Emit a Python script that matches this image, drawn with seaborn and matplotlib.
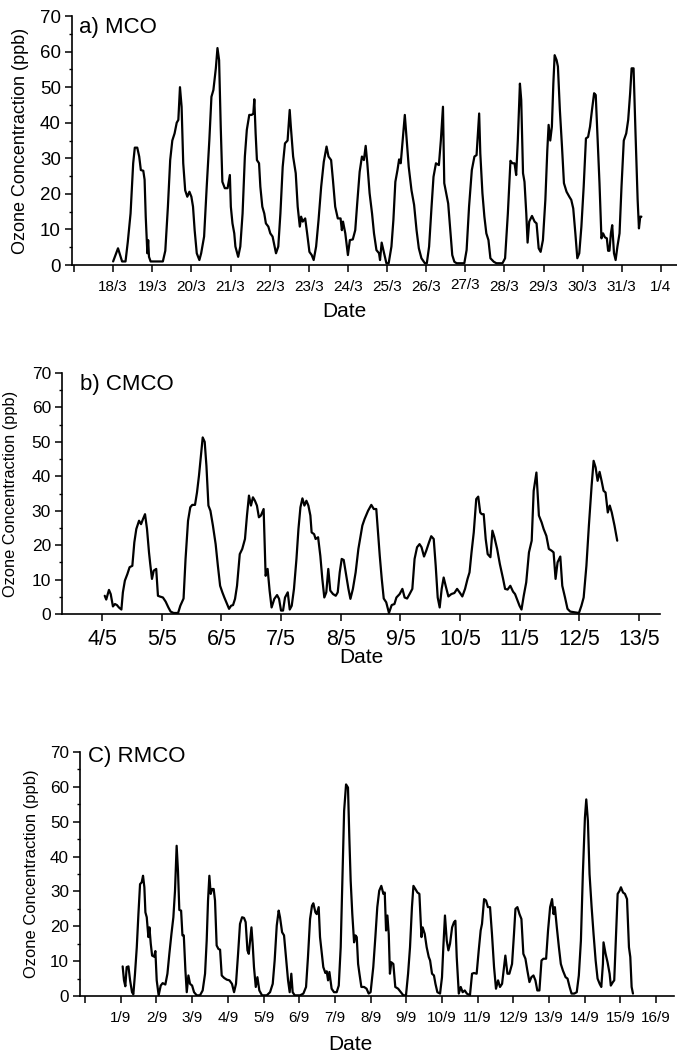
import pandas as pd
import seaborn as sns
import matplotlib.pyplot as plt
from matplotlib.ticker import MultipleLocator
from matplotlib.transforms import ScaledTranslation

# Hourly ozone readings (hours since the first labelled day)
mco_hours = [0, 3, 5.5, 7.6, 9, 10.7, 12.3, 13.3, 14.8, 16, 17, 18.5, 19.3, 20, 21, 21.5, 22, 23, 24, 30.5,
             32, 33.6, 35, 36.3, 37.7, 39, 40, 41, 42, 43, 44.2, 45.5, 46.8, 48, 49, 50, 51.3, 52.9, 54, 55.8,
             57.4, 59, 60.3, 61.5, 63, 64, 65, 66, 67, 68.5, 70.2, 71.6, 72.2, 73.2, 74.3, 75, 76.7, 78, 79.4,
             80.8, 82, 83.5, 85, 86, 86.6, 87.4, 88.2, 89.5, 90.3, 91.5, 92.7, 93.7, 95.2, 96.4, 97.8, 99.9,
             101.3, 102.6, 104, 105.4, 107, 108.3, 109, 110.4, 112, 113.2, 114.5, 115.3, 116.3, 117.8, 119,
             120.4, 121.8, 123, 124.5, 126, 127.6, 129.2, 130.9, 132.1, 133.7, 134.8, 136.2, 137.8, 139.5,
             140.3, 141, 142.4, 144, 145.2, 147, 148.5, 149.7, 151.2, 152.6, 153.8, 154.9, 155.9, 157.3,
             158.8, 160, 161.5, 163.1, 163.7, 164.7, 166.2, 167.6, 169, 170.7, 171.9, 173.1, 174.4, 175.4,
             176.4, 177.6, 178.9, 180.1, 181.3, 183, 184.6, 186.1, 187.5, 189.1, 191.2, 192.4, 193.8, 195.3,
             196.5, 198, 199.8, 201, 202.3, 203.1, 204.5, 205.5, 206.6, 208, 209.3, 210.7, 215.4, 216.8,
             218.3, 220, 221.6, 222.9, 223.7, 224.5, 225.2, 226.5, 227.7, 228.9, 230.2, 231.4, 233.5, 235.1,
             238.8, 240.4, 242.1, 243.7, 244.9, 246.2, 247.2, 248.2, 249.5, 250.3, 251.4, 252.3, 253.4,
             254.2, 255.2, 256.9, 258.5, 259.7, 261, 262.2, 263.6, 265.1, 266.3, 267.1, 268.1, 269.1, 270,
             270.8, 272, 272.8, 274, 275.3, 276.5, 278.1, 279.8, 281, 282.2, 283.5, 284.7, 285.9, 287.2,
             288.6, 290, 291.3, 292.5, 293.7, 295, 296, 297, 298.3, 299.5, 300.5, 301.6, 302.8, 303.6,
             304.4, 305.3, 306.1, 307.2, 308.2, 309.3, 310.6, 311.8, 313.2, 314.7, 315.9, 317.1, 318,
             319.2, 320.4, 321.7, 322.5, 323.3, 324]
mco_ozone = [1, 4.7, 1, 1, 6.5, 14.5, 28.6, 33, 33, 30.5, 26.7, 26.5, 24, 13.6, 3.3, 7, 2.3, 1, 1, 1,
             4, 16.4, 29.5, 35, 37, 40, 40.8, 50, 44.5, 28.6, 21, 19.2, 20.6, 19.2, 16.4, 9.8, 3.3, 1.4, 3.3, 8,
             22, 35, 47.3, 49.2, 55.3, 61, 57.6, 38.9, 23.4, 21.6, 21.6, 25.3, 16.4, 11.7, 8.9, 5.2, 2.3, 5.2,
             14.5, 30.5, 38, 42.2, 42.2, 42.6, 46.6, 37, 29.5, 28.6, 22, 16.4, 14.5, 11.7, 10.8, 8.9, 8, 3.3,
             5.2, 14.5, 27.6, 34.2, 35, 43.6, 38.9, 30.5, 25.8, 16.4, 10.8, 13.6, 12.2, 13.1, 8.9,
             3.7, 2.8, 1.4, 5.2, 12.7, 22, 29, 33.3, 30.5, 29.5, 24, 16.4, 13.1, 13.1,
             9.8, 12.2, 8.9, 2.8, 7, 7.2, 9.8, 17.3, 26.2, 30.5, 29.5, 33.5, 28.6, 20.2,
             14.5, 8.9, 4.2, 3.3, 1.4, 6.3, 3.3, 0.5, 0.5, 5.2, 12.7, 23.4, 26.7, 29.7,
             28.6, 35, 42.2, 35, 27.6, 21, 16.9, 9.8, 4.7, 1.9, 0.5, 0.5, 5.2, 16.4,
             24.8, 28.6, 28.1, 35, 44.5, 23, 19.7, 17.3, 10.8, 2.8, 0.9, 0.5, 0.5, 4.2,
             16.4, 26.7, 30.5, 30.9, 37, 42.6, 31.4, 20.2, 13.6, 8.9, 7, 1.9, 0.9, 0.5,
             0.5, 1.9, 14.5, 29.3, 28.6, 28.6, 25.3, 35, 51, 46.4, 25.8, 23.4, 14.5,
             6.3, 12.2, 13.8, 12.2, 11.7, 4.7, 3.7, 7, 18.3, 32.3, 39.4, 35, 38.9, 51,
             59, 57.6, 55.8, 43.6, 33.3, 23, 20.6, 19.2, 18.3, 15.9, 8.9, 1.9, 3.3, 10.8,
             22, 35.6, 36, 38.9, 43.6, 48.3, 47.8, 37, 23, 7.5, 8.9, 7.8, 7.5, 4,
             4, 8.9, 11.2, 3.3, 1.4, 5.2, 8.9, 22, 35, 37, 40.8, 48.3, 55.3,
             55.3, 37, 18.3, 10.3, 13.6, 13.6]

cmco_hours = [1.1, 1.7, 2.8, 3.5, 4.4, 5.2, 6, 6.8, 7.8, 8.4, 9.2, 10.2, 11.1, 12.2, 13, 13.8, 14.9, 15.7,
              16.5, 17.3, 18.1, 18.9, 19.4, 20.1, 20.8, 21.8, 22.5, 23.2, 24.5, 25.6, 26.7, 27.6, 28.8,
              30.6, 31.5, 32.8, 33.6, 34.6, 35.5, 36.3, 37.4, 38.2, 39, 39.8, 40.5, 41.3, 42, 42.8, 43.6,
              44.6, 45.7, 46.6, 47.5, 48.4, 49.2, 50, 51.1, 51.9, 52.7, 53.5, 54.3, 55.4, 56.4, 57.5, 58.3,
              59.1, 59.9, 60.7, 61.5, 62.3, 63.1, 63.9, 65, 65.8, 66.6, 67.4, 68.2, 69.3, 70.4, 71.2, 72,
              72.8, 73.6, 74.7, 75.5, 76.3, 77.2, 78.2, 79, 79.8, 80.6, 81.4, 82.2, 83, 83.8, 84.3, 85.3,
              85.9, 86.9, 87.8, 88.6, 89.4, 90.2, 91, 91.8, 92.9, 94, 94.8, 95.6, 96.4, 97.2, 98, 99.1,
              99.9, 100.9, 102, 103.1, 104.7, 105.6, 107, 108.3, 109.3, 110.3, 111, 111.7, 112.5, 113.3,
              114.3, 115.4, 116.5, 117.6, 118.4, 119.7, 120.8, 121.7, 122.7, 123.7, 124.8, 125.7, 126.7,
              127.7, 128.5, 129.5, 130.4, 131.5, 132.4, 133.4, 134.2, 135, 135.8, 136.6, 137.4, 138.2,
              139.3, 140.5, 141.7, 142.8, 143.8, 144.9, 146, 147, 147.8, 148.6, 149.5, 150.5, 151.3,
              152.1, 152.7, 153.5, 154.3, 155.1, 156.2, 157, 157.8, 158.9, 160, 161.3, 162.1, 163.1,
              164.2, 165.3, 166.1, 167.1, 167.9, 168.7, 169.6, 170.6, 171.7, 172.8, 173.6, 174.7, 175.7,
              176.8, 177.6, 178.7, 179.7, 180.8, 181.6, 182.4, 183.2, 184.3, 185.1, 186.2, 187.2, 188.3,
              190.1, 191.8, 192.8, 193.7, 194.8, 195.8, 196.9, 197.7, 198.5, 199.3, 200.1, 200.9, 201.7,
              202.5, 203.4, 204.2, 205, 206.1, 207.2]
cmco_ozone = [5.3, 4.2, 7, 5.8, 2.2, 2.9, 2.6, 1.9, 1.3, 6.3, 9.7, 11.6, 13.6, 14, 20.8, 24.7, 27.1, 26.1,
              27.6, 29, 24.7, 17.9, 14.5, 10.2, 12.6, 13.1, 5.3, 5.1, 4.8, 3.6, 1.9, 0.7, 0.3,
              0.3, 2.4, 4.5, 16, 27.1, 31, 31.7, 31.7, 35.3, 40.2, 46, 51.3, 50, 43, 31.5, 30,
              25.7, 20.3, 14, 8.2, 6.3, 4.8, 3.4, 1.5, 2.4, 2.6, 4.4, 8.2, 17.4, 18.9, 21.8, 28.6,
              34.4, 31.5, 33.9, 32.9, 31.5, 28.1, 28.6, 30.5, 11.1, 13.1, 6.8, 1.9, 4.4, 5.5, 4.4, 1,
              1, 4.8, 6.3, 1.3, 2.4, 7.3, 16, 24.7, 31, 33.6, 31.5, 32.9, 31.5, 28.6, 23.7, 23.2,
              21.8, 22.3, 16.9, 10.2, 4.8, 6.3, 13.1, 6.8, 5.8, 5.3, 6.3, 12.1, 16, 15.7, 12.1, 7.3,
              4.4, 7.3, 12.1, 18.9, 25.7, 27.6, 30, 31.7, 30.5, 30.5, 23.7, 16.9, 10.2, 4.5,
              3.4, 0.3, 2.6, 2.9, 4.8, 5.8, 7.3, 4.8, 4.5, 5.8, 7.3, 16, 19.4,
              20.3, 19.4, 16.7, 18.4, 20.8, 22.6, 21.8, 14, 4.8, 1.9, 7.3, 10.6, 8.2,
              5.1, 5.8, 6.1, 7.3, 6.3, 5.1, 7.3, 10.2, 12.1, 17.9, 23.7, 33.4, 34.1,
              29.5, 29, 29, 21.8, 17.4, 16.5, 24.2, 22.3, 18.9, 14.5, 10.2, 7.3, 7.1,
              8.2, 6.5, 5.8, 3.9, 2.4, 1.3, 5.3, 9.2, 17.9, 21.3, 35.8, 41.1, 28.6,
              26.6, 24.7, 22.7, 18.9, 18.4, 17.9, 10.2, 15, 16.7, 8.2, 4.8, 1.5, 0.7,
              0.5, 0.3, 2.4, 4.8, 14, 25.7, 37.3, 44.5, 42.6, 38.7, 41.3, 38.7, 35.8,
              35.3, 29.5, 31.5, 29.5, 25.7, 21.3]

rmco_hours = [1.3, 2.2, 3.1, 4, 5.2, 6.3, 7.6, 8.5, 9.6, 10.8, 11.9, 13, 14.1, 15, 15.9, 16.6, 17.5, 18.6,
              19.3, 20.2, 21.1, 22.4, 23.3, 24.2, 25.5, 26.9, 28.2, 30, 31.4, 32.7, 34.1, 35.4, 36.5, 37.6,
              38.5, 39.4, 40.6, 41.5, 42.4, 43.5, 44.4, 45.5, 46.6, 48, 49.3, 51.1, 53.3, 55.1, 56.7, 57.8,
              58.7, 59.6, 60.5, 61.4, 62.5, 63.4, 64.5, 65.7, 66.8, 67.9, 69.5, 71.3, 73.1, 74.8, 76.2,
              77.5, 78.9, 80.2, 81.6, 82.9, 84, 85.2, 86.1, 87, 87.9, 88.7, 89.6, 90.8, 91.9, 93.2, 95,
              98.2, 100.4, 102.2, 103.5, 104.9, 106.2, 107.1, 108.5, 109.8, 111.1, 112.5, 113.6, 114.7,
              115.6, 117, 120.6, 122.8, 124.6, 125.9, 127.3, 128.6, 129.5, 130.9, 131.8, 133.1, 134,
              135.1, 136.2, 137.6, 138.5, 139.4, 140.3, 141.8, 143.4, 145.2, 146.6, 147.9, 149, 150.2,
              151.5, 152.8, 153.7, 154.6, 155.7, 156.9, 157.8, 158.7, 159.6, 160.5, 161.8, 163.6, 165.3,
              166.7, 168, 169.8, 171.2, 172.5, 173.8, 175.2, 176.6, 177.5, 178.4, 179.3, 180.2, 181,
              181.9, 183.3, 184.6, 186.5, 188.3, 190, 191.8, 193.2, 194.5, 195.8, 196.8, 198.1, 199.5,
              200.8, 202.2, 203, 204.4, 205.7, 207.1, 208, 209.3, 210.6, 211.6, 212.9, 214.7, 216,
              216.9, 218, 219.2, 220.3, 221.4, 222.8, 224.1, 225, 225.9, 227.3, 228.6, 229.9, 231.3,
              232.7, 234.8, 236.2, 237.5, 239.3, 240.7, 242, 242.9, 244.3, 245.6, 246.9, 248.3, 249.6,
              251, 252.3, 253.7, 255, 256.4, 257.7, 258.6, 260, 261.3, 263.1, 264.4, 265.4, 266.7,
              268.1, 269.4, 270.7, 272.1, 273.4, 274.8, 276.1, 277.5, 278.8, 280.1, 281.5, 282.9,
              284.2, 286, 287.3, 288.7, 290, 291, 291.9, 293.2, 294.6, 295.9, 297.3, 299.1, 300.4,
              301.8, 303.1, 304.9, 306.6, 308, 309.4, 310.7, 312.1, 313, 314.1, 315.2, 316.6, 317.9,
              319.3, 320.6, 322, 323.1, 324.2, 324.6, 326, 327.3, 328.7, 329.5, 330.9, 331.8, 332.7,
              334.1, 335.4, 336.3, 337.7, 339, 340.4, 341.7, 342.6, 343.5, 344.4]
rmco_ozone = [8.5, 4.5, 2.8, 8.3, 8.5, 4.5, 1.1, 0.5, 6.4, 14, 23.5, 32.1, 32.6, 34.5, 31.2, 24, 22.6, 16.9,
              19.7, 15, 11.6, 11.3, 12.9, 4.5, 0.2, 3, 3.7, 3.3, 6.4, 12.1, 17.8, 22.6, 30.2, 43.1,
              35.9, 24.7, 24.5, 17.4, 17.4, 7.3, 1.1, 5.9, 3.5, 3, 1.1, 0.2, 0.2, 1.6, 6.4, 15.9,
              27.4, 34.5, 29.3, 30.7, 30.7, 27.4, 14.5, 13.5, 13.3, 5.9, 5.2, 4.7, 4.5, 3.5, 1.1,
              3.5, 12.1, 20.7, 22.6, 22.4, 21.2, 13.1, 12.1, 15.9, 19.7, 15, 8.3, 2.6, 5.4, 1.6, 0.2,
              0.2, 1.1, 3.5, 10.2, 20.2, 24.5, 22.6, 18.3, 17.4, 11.2, 4.5, 1.1, 6.4,
              1.1, 0.2, 0.2, 0.7, 2.6, 11.2, 22.1, 25.9, 26.6, 24, 23.5, 25.5, 16.9,
              12.6, 8.3, 6.6, 7.1, 4.5, 6.9, 2.1, 1.1, 1.1, 3, 14, 33.1, 53.1,
              60.7, 59.8, 45.5, 33.1, 23.5, 15.4, 17.4, 16.9, 9.2, 6.4, 2.6, 2.6, 2.1,
              0.7, 1.1, 8.3, 16.9, 25.5, 30.2, 31.6, 29.3, 29.7, 18.8, 23.1, 17.8, 6.4,
              9.7, 9.2, 2.6, 2.1, 1.1, 0.2, 0.2, 6.4, 14, 25.5, 31.6, 30.7, 29.7,
              29.3, 16.9, 19.7, 17.8, 14, 11.2, 10.2, 6.4, 5.9, 3.5, 1.1, 0.7, 5.4,
              14, 23.1, 15.9, 13.1, 15, 19.7, 21.2, 21.6, 11.2, 0.7, 2.6, 1.1, 1.6,
              0.7, 0.2, 6.4, 6.6, 6.4, 13.1, 18.8, 20.7, 27.8, 27.4, 25.5, 25.5, 17.8,
              8.3, 2.1, 4.5, 2.6, 3.5, 8.3, 11.6, 6.4, 6.4, 9.2, 17.8, 25, 25.5,
              23.5, 22.1, 12.1, 10.7, 7.3, 4, 5.4, 5.9, 4.5, 1.6, 1.6, 10.2,
              10.7, 10.7, 18.8, 25.5, 27.8, 23.5, 25.5, 19.7, 14, 9.2, 7.3, 5.4, 5,
              2.6, 0.7, 0.7, 1.1, 5.9, 15.9, 35, 51.2, 56.4, 50.2, 35, 25.5, 17.8,
              10.2, 5, 3.5, 2.6, 9.2, 15.4, 12.1, 9.7, 6.4, 3, 4, 4.5, 14,
              29.3, 30.2, 31.2, 29.7, 29.3, 27.8, 14, 11.2, 2.6, 0.7]

mco_dates = ['18/3', '19/3', '20/3', '21/3', '22/3', '23/3', '24/3', '25/3', '26/3', '27/3',
             '28/3', '29/3', '30/3', '31/3', '1/4']
cmco_dates = ['4/5', '5/5', '6/5', '7/5', '8/5', '9/5', '10/5', '11/5', '12/5', '13/5']
rmco_dates = ['1/9', '2/9', '3/9', '4/9', '5/9', '6/9', '7/9', '8/9', '9/9', '10/9', '11/9',
              '12/9', '13/9', '14/9', '15/9', '16/9']

sns.set_style("ticks")
plt.rcParams['font.family'] = ['Liberation Sans', 'DejaVu Sans']
for key in ['text.color', 'axes.labelcolor', 'xtick.color', 'ytick.color', 'axes.edgecolor']:
    plt.rcParams[key] = 'black'

fig = plt.figure(figsize=(6.77, 10.55), dpi=100)


def draw_panel(rect, hours, ozone, dates, title, xlim, lead_tick, sizes, title_pos, date_pos, ypad):
    xt, yt, yl = sizes
    ax = fig.add_axes(rect)
    df = pd.DataFrame({'day': [h / 24 for h in hours], 'ozone': ozone})
    sns.lineplot(data=df, x='day', y='ozone', color='black', linewidth=1.6, sort=False,
                 estimator=None, ax=ax)
    sns.despine(ax=ax)
    for s in ['left', 'bottom']:
        ax.spines[s].set_linewidth(1.2)

    ticks = list(range(len(dates)))
    labels = list(dates)
    if lead_tick:
        ticks = [-1] + ticks
        labels = [''] + labels
    ax.set_xticks(ticks)
    ax.set_xticklabels(labels, fontsize=xt)
    ax.set_xlim(*xlim)
    ax.set_ylim(0, 70)
    ax.yaxis.set_major_locator(MultipleLocator(10))
    ax.yaxis.set_minor_locator(MultipleLocator(5))
    ax.tick_params(axis='y', which='major', labelsize=yt, length=5, width=1.1, pad=3)
    ax.tick_params(axis='y', which='minor', length=2.5, width=1.0)
    ax.tick_params(axis='x', which='major', length=5, width=1.1, pad=6)

    ax.set_ylabel('Ozone Concentraction (ppb)', fontsize=yl, labelpad=ypad)
    ax.set_xlabel('Date', fontsize=15)
    ax.xaxis.set_label_coords(*date_pos)
    ax.text(title_pos[0], title_pos[1], title, transform=ax.transAxes, fontsize=16,
            ha='left', va='top')
    return ax


ax_a = draw_panel([0.1064, 0.7488, 0.8936, 0.236], mco_hours, mco_ozone, mco_dates, 'a) MCO',
                  (-1.05, 14.41), True, (11, 13.5, 13), (0.012, 0.995), (0.45, -0.15), 8)
draw_panel([0.0916, 0.418, 0.8833, 0.2284], cmco_hours, cmco_ozone, cmco_dates, 'b) CMCO',
           (-0.67, 9.35), False, (15.5, 12.5, 11.8), (0.03, 0.995), (0.5, -0.14), 10)
draw_panel([0.1182, 0.0559, 0.8774, 0.2313], rmco_hours, rmco_ozone, rmco_dates, 'C) RMCO',
           (-1.14, 15.5), True, (11, 12.3, 11.9), (0.013, 1.025), (0.455, -0.16), 8)

# the 27/3 label sits slightly higher than its neighbours in the original
lbl = ax_a.get_xticklabels()[mco_dates.index('27/3') + 1]
lbl.set_transform(lbl.get_transform() + ScaledTranslation(0, 2 / 72, fig.dpi_scale_trans))

plt.savefig('out.png', dpi=100)
plt.close()
